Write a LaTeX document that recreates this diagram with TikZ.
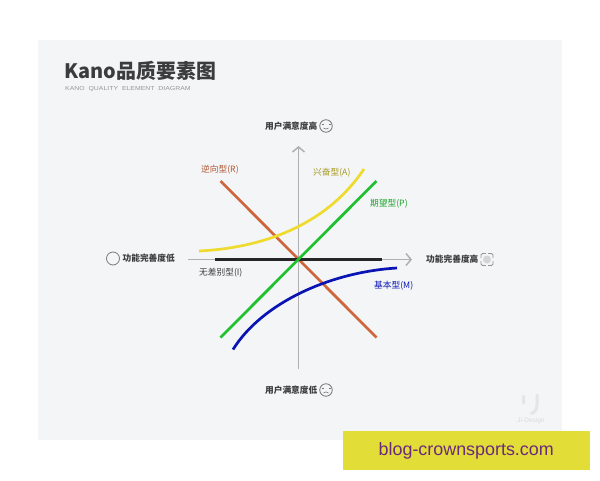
\documentclass[tikz,border=0pt]{standalone}
\usepackage{fontspec}
\setmainfont{Noto Sans CJK SC}
\newfontfamily\latinf{Liberation Sans}
\usetikzlibrary{arrows.meta}
\definecolor{panel}{HTML}{F3F5F7}
\definecolor{axisc}{HTML}{B0B0B0}
\definecolor{txt}{HTML}{3C3C3E}
\definecolor{band}{HTML}{E3DD37}
\definecolor{bandtxt}{HTML}{6A2A7C}
\definecolor{redl}{HTML}{D0673C}
\definecolor{yell}{HTML}{EFDB2E}
\definecolor{grn}{HTML}{1FC12E}
\definecolor{blu}{HTML}{0A14B4}
\tikzset{
  x=1pt,y=-1pt,
  axisline/.style={draw=axisc,line width=1.9pt,-{Straight Barb[length=5pt,width=12pt,line width=1.5pt]}},
  typeline/.style={line width=2.7pt},
  axlabel/.style={font=\fontsize{8.7}{10}\selectfont\bfseries,text=txt,inner sep=0pt},
  typelabel/.style={font=\fontsize{8.7}{10}\selectfont,inner sep=0pt},
  icon/.style={draw=#1,line width=0.8pt,circle,minimum size=12.5pt,inner sep=0pt},
}
\begin{document}
\begin{tikzpicture}
\useasboundingbox (0,0) rectangle (600,480);
\fill[white] (0,0) rectangle (600,480);
\fill[panel] (38,40) rectangle (562,440);
\node[inner sep=0pt,anchor=west,text=txt,font=\fontsize{19.9}{22}\selectfont\bfseries] (title) at (64.5,71) {Kano品质要素图};
\node[inner sep=0pt,anchor=west,text=axisc!85!black,font=\latinf\fontsize{5.8}{7}\selectfont,xscale=1.19] (subtitle) at (65,89.5) {KANO\ \ QUALITY\ \ ELEMENT\ \ DIAGRAM};
% axes
\coordinate (xl) at (188,259.5); \coordinate (xr) at (412,259.5);
\coordinate (yb) at (298.5,369); \coordinate (yt) at (298.5,146);
\draw[axisline] (xl) -- (xr);
\draw[axisline] (yb) -- (yt);
% type lines
\coordinate (bA) at (215,259.5); \coordinate (bB) at (382,259.5);
\coordinate (rA) at (220.5,181); \coordinate (rB) at (376.5,337.5);
\coordinate (gA) at (220.5,337.5); \coordinate (gB) at (376.5,181);
\coordinate (yA) at (199,251); \coordinate (yB) at (364,169);
\coordinate (uA) at (233,349.5); \coordinate (uB) at (397,268);
\draw[typeline,draw=redl] (rA) -- (rB);
\draw[typeline,draw=yell] (yA) .. controls (260,248) and (325,227) .. (yB);
\draw[typeline,draw=black!85] (bA) -- (bB);
\draw[typeline,draw=grn] (gA) -- (gB);
\draw[typeline,draw=blu] (uA) .. controls (262,303) and (330,272) .. (uB);
% labels
\node[typelabel,text=redl!85!black,anchor=west] (lr) at (201,169.5) {逆向型(R)};
\node[typelabel,text=yell!70!black,anchor=west] (la) at (313,172.5) {兴奋型(A)};
\node[typelabel,text=grn!85!black,anchor=west] (lp) at (370,203.5) {期望型(P)};
\node[typelabel,text=blu,anchor=west] (lm) at (374,285.5) {基本型(M)};
\node[typelabel,text=txt,anchor=west] (li) at (199,273) {无差别型(I)};
% axis labels and icons
\node[axlabel,anchor=east] (top) at (317.5,126) {用户满意度高};
\node[icon=txt!70] (smile) at (326,126) {};
\draw[txt!70,line width=.6pt] (321.5,124) -- (323.5,124) (328.5,124) -- (330.5,124);
\draw[txt!70,line width=.6pt] (323.5,128) .. controls (325,129.5) and (327,129.5) .. (328.5,128);
\node[axlabel,anchor=east] (bot) at (317.5,390) {用户满意度低};
\node[icon=txt!70] (sad) at (326,390) {};
\draw[txt!70,line width=.6pt] (321.5,388) -- (323.5,388) (328.5,388) -- (330.5,388);
\draw[txt!70,line width=.6pt] (323.5,393) .. controls (325,391.5) and (327,391.5) .. (328.5,393);
\node[axlabel,anchor=east] (low) at (175,258.5) {功能完善度低};
\node[icon=axisc!70!black,minimum size=13pt] (circ) at (113,258.5) {};
\node[axlabel,anchor=west] (high) at (426,259.5) {功能完善度高};
\node[draw=axisc!85!black,line width=.9pt,minimum size=12pt,inner sep=0pt,rounded corners=1.5pt] (sq) at (487,259.5) {};
\fill[axisc!55] (487,259.5) circle (4pt);
\foreach \dx/\dy in {-1/0,1/0,0/-1,0/1}{\fill[panel] (487+\dx*6-1.3,259.5+\dy*6-1.3) rectangle (487+\dx*6+1.3,259.5+\dy*6+1.3);}
% logo
\draw[black!10,line width=3pt,line cap=round] (523.5,396) -- (523.5,403) (537,395) -- (537,405) .. controls (537,410) and (534,412.5) .. (531.5,413.5);
\node[inner sep=0pt,text=black!14,font=\latinf\fontsize{6.5}{7}\selectfont] (logo) at (531,420.5) {Ji-Design};
% band
\fill[band] (343,431) rectangle (590,470);
\node[inner sep=0pt,text=bandtxt,font=\latinf\fontsize{17.9}{20}\selectfont,anchor=west] (url) at (378.5,450.5) {blog-crownsports.com};
\end{tikzpicture}
\end{document}
